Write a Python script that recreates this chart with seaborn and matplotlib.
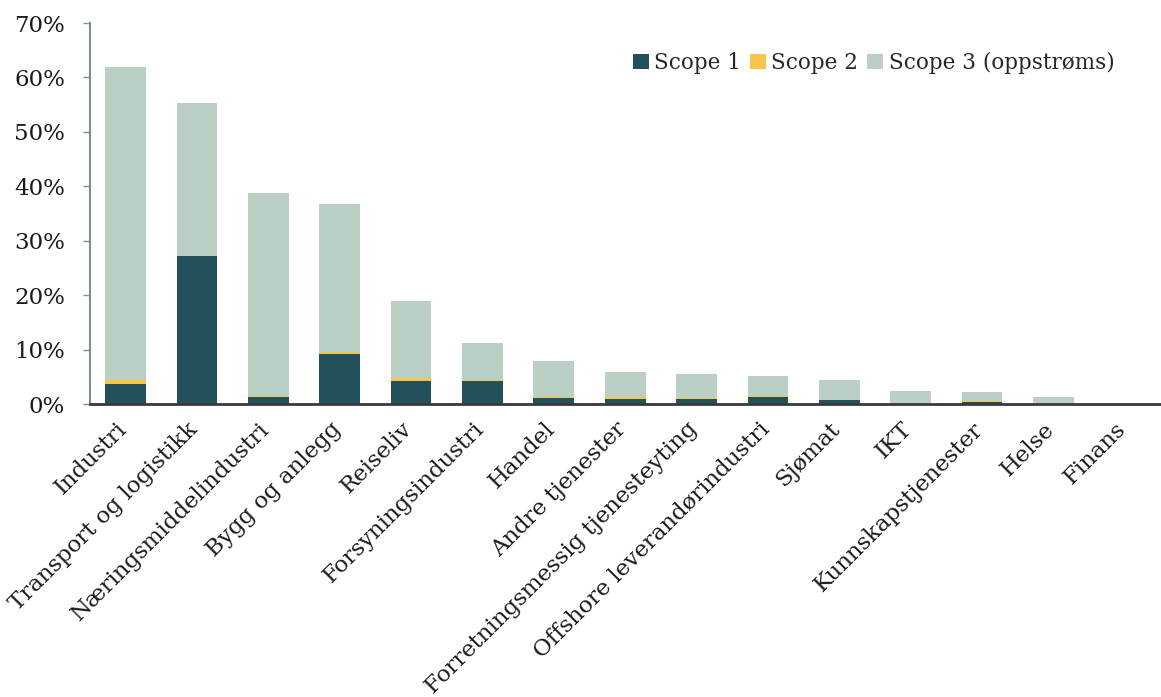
import matplotlib
matplotlib.use("Agg")
import matplotlib.pyplot as plt
import matplotlib.transforms as mtransforms
import seaborn as sns
import pandas as pd
from matplotlib.patches import Patch
from matplotlib.ticker import FuncFormatter

categories = ["Industri", "Transport og logistikk", "Næringsmiddelindustri", "Bygg og anlegg",
              "Reiseliv", "Forsyningsindustri", "Handel", "Andre tjenester",
              "Forretningsmessig tjenesteyting", "Offshore leverandørindustri", "Sjømat",
              "IKT", "Kunnskapstjenester", "Helse", "Finans"]
scope1 = [3.7, 27.2, 1.35, 9.3, 4.3, 4.3, 1.2, 1.0, 0.9, 1.4, 0.7, 0.1, 0.5, 0.1, 0.0]
scope2 = [0.8, 0.1, 0.2, 0.3, 0.5, 0.1, 0.1, 0.4, 0.3, 0.1, 0.1, 0.1, 0.1, 0.1, 0.0]
scope3 = [57.5, 28.0, 37.25, 27.2, 14.1, 6.8, 6.6, 4.5, 4.3, 3.6, 3.6, 2.2, 1.6, 1.1, 0.0]
series_names = ["Scope 1", "Scope 2", "Scope 3 (oppstrøms)"]
colors = ["#22515c", "#f7c548", "#bccfc5"]

sns.set_theme(style="white")
plt.rcParams['font.family'] = ['DejaVu Serif']

df = pd.DataFrame({"kat": categories, "s1": scope1, "s2": scope2, "s3": scope3})
df["c1"] = df["s1"]
df["c2"] = df["s1"] + df["s2"]
df["c3"] = df["c2"] + df["s3"]

fig = plt.figure(figsize=(11.61, 6.97), dpi=100)
ax = fig.add_axes([0.0775, 0.42, 0.922, 0.547])

for col, color in zip(["c3", "c2", "c1"], colors[::-1]):
    sns.barplot(data=df, x="kat", y=col, color=color, width=0.57, ax=ax,
                saturation=1, linewidth=0, order=categories)

ax.set_ylim(0, 70)
ax.set_xlim(-0.5, 14.5)
ax.set_yticks(range(0, 71, 10))
ax.yaxis.set_major_formatter(FuncFormatter(lambda v, p: f"{int(v)}%"))
ax.set_xlabel("")
ax.set_ylabel("")
ax.tick_params(axis="y", left=True, length=5, width=1, color="#7f8f8c", labelsize=16.5, pad=13)
ax.tick_params(axis="x", bottom=False, labelsize=16.5, pad=4)
offset = mtransforms.ScaledTranslation(-10 / 100, 0, fig.dpi_scale_trans)
for lbl in ax.get_xticklabels():
    lbl.set_rotation(45)
    lbl.set_ha("right")
    lbl.set_rotation_mode("anchor")
    lbl.set_transform(lbl.get_transform() + offset)
for lbl in ax.get_yticklabels() + ax.get_xticklabels():
    lbl.set_color("#1a1a1a")

sns.despine(ax=ax, top=True, right=True)
ax.spines["left"].set_color("#7f8f8c")
ax.spines["left"].set_linewidth(1.5)
ax.spines["bottom"].set_color("#3a3a3a")
ax.spines["bottom"].set_linewidth(2)

handles = [Patch(facecolor=c, edgecolor="none") for c in colors]
ax.legend(handles, series_names, loc="upper right", bbox_to_anchor=(0.975, 0.975), ncol=3,
          frameon=False, fontsize=15.5, handlelength=0.75, handleheight=0.75,
          handletextpad=0.25, columnspacing=0.4)

fig.savefig("out.png", dpi=100)
